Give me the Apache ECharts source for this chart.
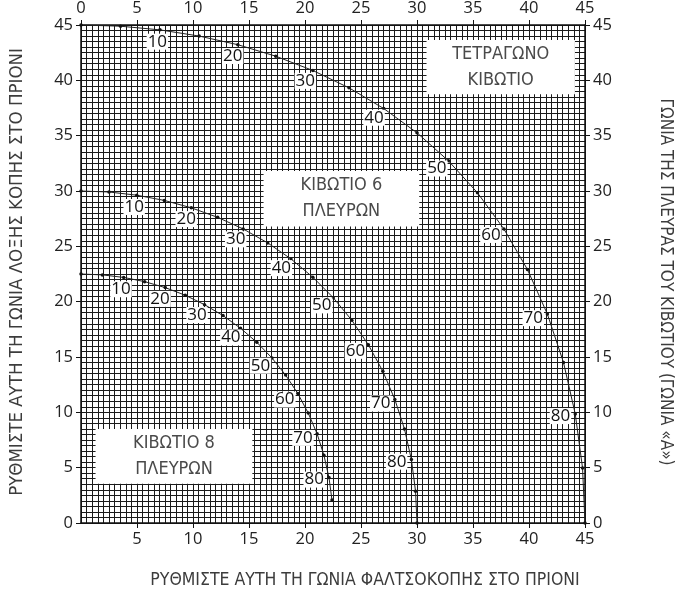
<!DOCTYPE html>
<html>
<head>
<meta charset="utf-8">
<script src="https://cdn.jsdelivr.net/npm/echarts@6/dist/echarts.min.js"></script>
<style>
html,body{margin:0;padding:0;background:#fff;}
#chart{width:676px;height:599px;}
</style>
</head>
<body>
<div id="chart"></div>
<script>
// Box side angle "A" (degrees) at each plotted dot
const sideAngles = [0,5,10,15,20,25,30,35,40,45,50,55,60,65,70,75,80,85,90];

// Square box (4 sides): bevel (x) and miter (y)
const squareBevel = [0,3.53,7.05,10.55,14.00,17.39,20.70,23.93,27.03,30.00,32.80,35.40,37.76,39.86,41.64,43.08,44.13,44.78,45];
const squareMiter = [45,44.89,44.56,44.00,43.22,42.18,40.89,39.32,37.45,35.26,32.73,29.84,26.57,22.91,18.88,14.51,9.85,4.98,0];

// 6-sided box
const hexBevel = [0,2.50,4.98,7.44,9.85,12.20,14.48,16.67,18.75,20.70,22.52,24.18,25.66,26.95,28.02,28.88,29.50,29.87,30];
const hexMiter = [30,29.91,29.62,29.15,28.48,27.62,26.57,25.31,23.86,22.21,20.36,18.32,16.10,13.71,11.17,8.50,5.73,2.88,0];

// 8-sided box
const octBevel = [0,1.91,3.81,5.68,7.52,9.31,11.03,12.68,14.24,15.70,17.05,18.27,19.36,20.29,21.08,21.69,22.14,22.41];
const octMiter = [22.5,22.42,22.19,21.81,21.27,20.58,19.73,18.74,17.60,16.33,14.91,13.37,11.70,9.93,8.06,6.12,4.11,2.07];

// Labelled angles
const labelledAngles = [10,20,30,40,50,60,70,80];

// Axis ticks
const axisMin = 0, axisMax = 45, axisStep = 5;

// Box captions
const captions = {
  square: 'ΤΕΤΡΑΓΩΝΟ\nΚΙΒΩΤΙΟ',
  hex: 'ΚΙΒΩΤΙΟ 6\nΠΛΕΥΡΩΝ',
  oct: 'ΚΙΒΩΤΙΟ 8\nΠΛΕΥΡΩΝ'
};
const titleLeft = 'ΡΥΘΜΙΣΤΕ ΑΥΤΗ ΤΗ ΓΩΝΙΑ ΛΟΞΗΣ ΚΟΠΗΣ ΣΤΟ ΠΡΙΟΝΙ';
const titleRight = 'ΓΩΝΙΑ ΤΗΣ ΠΛΕΥΡΑΣ ΤΟΥ ΚΙΒΩΤΙΟΥ (ΓΩΝΙΑ «Α»)';
const titleBottom = 'ΡΥΘΜΙΣΤΕ ΑΥΤΗ ΤΗ ΓΩΝΙΑ ΦΑΛΤΣΟΚΟΠΗΣ ΣΤΟ ΠΡΙΟΝΙ';

const NUM_FONT = '"Open Sans", "DejaVu Sans", sans-serif';
const TXT_FONT = '"Liberation Sans Narrow", "DejaVu Sans Condensed", "Open Sans", sans-serif';

function buildData(bevel, miter) {
  return bevel.map((b, i) => {
    const a = sideAngles[i];
    const item = { value: [b, miter[i]] };
    if (labelledAngles.indexOf(a) >= 0) {
      const r = a * Math.PI / 180;
      item.label = {
        show: true,
        formatter: String(a),
        position: 'inside',
        offset: [-Math.sin(r) * 15, Math.cos(r) * 12],
        fontSize: 17,
        fontFamily: NUM_FONT,
        color: '#111',
        backgroundColor: '#fff',
        padding: [0, 1, -1, 1]
      };
    }
    return item;
  });
}

const gridLineStyle = { color: '#1a1a1a', width: 1 };

function makeAxis(position, showLabel, hideMin) {
  return {
    type: 'value',
    position: position,
    min: axisMin, max: axisMax, interval: axisStep,
    axisLine: { show: true, onZero: false, lineStyle: { color: '#111', width: 1.5 } },
    axisTick: { show: true, length: 5, lineStyle: { color: '#111', width: 1 } },
    axisLabel: {
      show: showLabel,
      margin: 8,
      fontSize: 16.5,
      fontFamily: NUM_FONT,
      color: '#222',
      showMinLabel: !hideMin
    },
    splitLine: { show: false },
    minorTick: { show: false, splitNumber: 10 },
    minorSplitLine: { show: false }
  };
}

const xBottom = makeAxis('bottom', true, true);
xBottom.splitLine = { show: true, lineStyle: gridLineStyle };
xBottom.minorSplitLine = { show: true, lineStyle: gridLineStyle };
const xTop = makeAxis('top', true, false);
const yLeft = makeAxis('left', true, false);
yLeft.splitLine = { show: true, lineStyle: gridLineStyle };
yLeft.minorSplitLine = { show: true, lineStyle: gridLineStyle };
const yRight = makeAxis('right', true, false);

const lineBase = {
  type: 'line',
  xAxisIndex: 0, yAxisIndex: 0,
  symbol: 'circle', symbolSize: 3.5,
  showAllSymbol: true,
  lineStyle: { color: '#222', width: 1 },
  itemStyle: { color: '#111' },
  emphasis: { disabled: true },
  z: 5
};

const boxLabel = {
  show: true, position: 'inside',
  color: '#4a4a4a', fontSize: 18, lineHeight: 26,
  fontFamily: TXT_FONT
};

const option = {
  animation: false,
  backgroundColor: '#fff',
  grid: { left: 81, top: 18, width: 504, height: 505 },
  xAxis: [xBottom, xTop],
  yAxis: [yLeft, yRight],
  series: [
    Object.assign({}, lineBase, {
      name: 'square', data: buildData(squareBevel, squareMiter),
      markArea: {
        silent: true,
        itemStyle: { color: '#fff', opacity: 1 },
        label: boxLabel,
        data: [
          [{ name: captions.square, coord: [30.85, 43.65] }, { coord: [44.1, 38.75] }],
          [{ name: captions.hex, coord: [16.3, 31.8] }, { coord: [30.2, 26.8] }],
          [{ name: captions.oct, coord: [1.3, 8.5] }, { coord: [15.3, 3.55] }]
        ]
      }
    }),
    Object.assign({}, lineBase, { name: 'hex', data: buildData(hexBevel, hexMiter) }),
    Object.assign({}, lineBase, { name: 'oct', data: buildData(octBevel, octMiter) })
  ],
  graphic: [
    { type: 'text', x: 17, y: 272, rotation: Math.PI / 2,
      style: { text: titleLeft, fill: '#3c3c3c', font: '18.5px ' + TXT_FONT, textAlign: 'center', textVerticalAlign: 'middle' } },
    { type: 'text', x: 665, y: 282, rotation: -Math.PI / 2,
      style: { text: titleRight, fill: '#3c3c3c', font: '17px ' + TXT_FONT, textAlign: 'center', textVerticalAlign: 'middle' } },
    { type: 'text', x: 365, y: 580,
      style: { text: titleBottom, fill: '#3c3c3c', font: '17.5px ' + TXT_FONT, textAlign: 'center', textVerticalAlign: 'middle' } }
  ]
};

const chart = echarts.init(document.getElementById('chart'), null, { renderer: 'canvas' });
chart.setOption(option);
</script>
</body>
</html>
